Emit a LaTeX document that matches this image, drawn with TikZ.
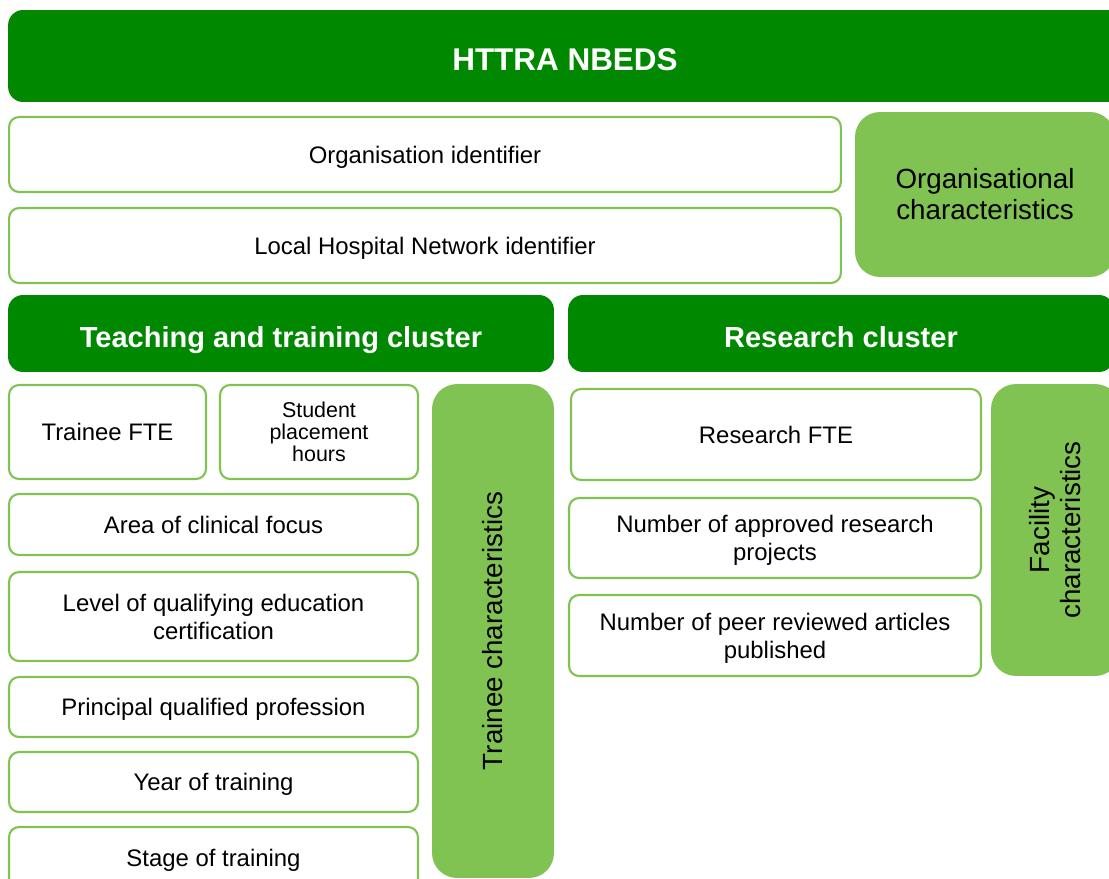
\documentclass[tikz,border=0pt]{standalone}
\usepackage{fontspec}
\setmainfont{Liberation Sans}
\usepackage{tikz}
\definecolor{darkgrn}{RGB}{0,136,0}
\definecolor{lightgrn}{RGB}{128,195,82}

\begin{document}
\begin{tikzpicture}[x=0.02cm,y=-0.02cm,
    capmid/.style={execute at begin node={\rule{0pt}{#1}},execute at end node={\rule[-0.22em]{0pt}{0.22em}}},
    header/.style={fill=darkgrn,draw=none,rounded corners=0.3cm,text=white,font=\fontsize{16.5}{19}\selectfont\bfseries,inner sep=0pt,capmid=1.16em},
    box/.style={fill=white,draw=lightgrn,line width=1.2pt,rounded corners=0.2cm,align=center,font=\fontsize{13.6}{15.9}\selectfont,inner sep=0pt},
    leaf/.style={box,capmid=0.95em},
    charbox/.style={fill=lightgrn,draw=none,rounded corners=0.5cm,align=center,font=\fontsize{15.8}{17.6}\selectfont,inner sep=0pt}]
    \useasboundingbox (0,0) rectangle (1109,879);
    \clip (0,0) rectangle (1109,879);
    % top banner
    \node[header,minimum width=22.28cm,minimum height=1.84cm,font=\fontsize{17.9}{20}\selectfont\bfseries] (nbeds) at (565,56) {HTTRA NBEDS};
    % organisation rows
    \node[leaf,minimum width=16.64cm,minimum height=1.5cm] (orgid) at (425,154.5) {Organisation identifier};
    \node[leaf,minimum width=16.64cm,minimum height=1.5cm] (lhnid) at (425,245.5) {Local Hospital Network identifier};
    \node[charbox,minimum width=5.2cm,minimum height=3.3cm] (orgchar) at (985,194.5) {Organisational\\characteristics};
    % cluster headers
    \node[header,minimum width=10.92cm,minimum height=1.54cm] (teach) at (281,333.5) {Teaching and training cluster};
    \node[header,minimum width=10.92cm,minimum height=1.54cm] (research) at (841,333.5) {Research cluster};
    % teaching and training items
    \node[leaf,minimum width=3.94cm,minimum height=1.88cm] (tfte) at (107.5,432) {Trainee FTE};
    \node[box,minimum width=3.96cm,minimum height=1.88cm,font=\fontsize{12.2}{12.5}\selectfont] (hours) at (319,432) {Student\\placement\\hours};
    \node[leaf,minimum width=8.18cm,minimum height=1.22cm] (focus) at (213.5,524.5) {Area of clinical focus};
    \node[box,minimum width=8.18cm,minimum height=1.78cm] (level) at (213.5,616.5) {Level of qualifying education\\certification};
    \node[leaf,minimum width=8.18cm,minimum height=1.2cm] (prof) at (213.5,707) {Principal qualified profession};
    \node[leaf,minimum width=8.18cm,minimum height=1.2cm] (year) at (213.5,782) {Year of training};
    \node[leaf,minimum width=8.18cm,minimum height=1.24cm] (stage) at (213.5,858) {Stage of training};
    \node[charbox,rotate=90,minimum width=9.88cm,minimum height=2.44cm] (trchar) at (493,631) {Trainee characteristics};
    % research items
    \node[leaf,minimum width=8.2cm,minimum height=1.82cm] (rfte) at (776,434.5) {Research FTE};
    \node[box,minimum width=8.24cm,minimum height=1.6cm,text depth=-6pt] (projects) at (775,538) {Number of approved research\\projects};
    \node[box,minimum width=8.24cm,minimum height=1.62cm,text depth=-5pt] (articles) at (775,635.5) {Number of peer reviewed articles\\published};
    \node[charbox,rotate=90,minimum width=5.84cm,minimum height=2.58cm] (facchar) at (1055.5,530) {Facility\\characteristics};
\end{tikzpicture}
\end{document}
